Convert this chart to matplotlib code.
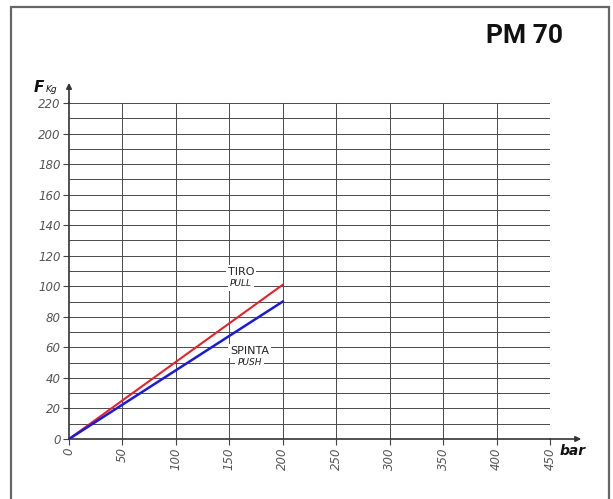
import matplotlib
matplotlib.use("Agg")
import matplotlib.pyplot as plt
from matplotlib.patches import Rectangle

# data
pressure_bar = [0, 200]
pull_kg = [0, 101]
push_kg = [0, 90]
x_ticks = [0, 50, 100, 150, 200, 250, 300, 350, 400, 450]
y_ticks = [0, 20, 40, 60, 80, 100, 120, 140, 160, 180, 200, 220]
y_minor = [10, 30, 50, 70, 90, 110, 130, 150, 170, 190, 210]

W, H = 613, 499
fig = plt.figure(figsize=(W / 100, H / 100), dpi=100)
fig.patch.set_facecolor('white')

# outer frame
fig.patches.append(Rectangle((11 / W, -0.01), (609 - 11) / W, 1 - 7 / H + 0.01,
                             transform=fig.transFigure, fill=False,
                             edgecolor='#666666', linewidth=1.6))

x0, x1 = 69, 550
y0, y1 = 439, 103
ax = fig.add_axes([x0 / W, 1 - y0 / H, (x1 - x0) / W, (y0 - y1) / H])
ax.set_xlim(0, 450)
ax.set_ylim(0, 220)

grid_c = '#4a4a4a'
for v in x_ticks[1:]:
    ax.axvline(v, color=grid_c, lw=0.7, zorder=1)
for v in y_ticks[1:] + y_minor:
    ax.axhline(v, color=grid_c, lw=0.7, zorder=1)

for s in ['top', 'right']:
    ax.spines[s].set_visible(False)
for s in ['left', 'bottom']:
    ax.spines[s].set_color('#333333')
    ax.spines[s].set_linewidth(1.2)

ax.plot(pressure_bar, pull_kg, color='#e8202a', lw=1.5, zorder=3)
ax.plot(pressure_bar, push_kg, color='#1a1adc', lw=1.8, zorder=3)

ax.set_xticks(x_ticks)
ax.set_yticks(y_ticks)
ax.tick_params(axis='both', direction='out', length=4, width=0.8,
               color='#444444', labelcolor='#555555', labelsize=8.5, pad=2)
for lab in ax.get_xticklabels():
    lab.set_rotation(90)
    lab.set_style('italic')
for lab in ax.get_yticklabels():
    lab.set_style('italic')

# axis arrows
ax.annotate('', xy=(1.065, 0), xytext=(1.0, 0), xycoords='axes fraction',
            arrowprops=dict(arrowstyle='-|>', color='#333333', lw=1.2,
                            mutation_scale=8, shrinkA=0, shrinkB=0),
            annotation_clip=False)
ax.annotate('', xy=(0, 1.06), xytext=(0, 1.0), xycoords='axes fraction',
            arrowprops=dict(arrowstyle='-|>', color='#333333', lw=1.2,
                            mutation_scale=8, shrinkA=0, shrinkB=0),
            annotation_clip=False)

# series labels, with white boxes knocking out the grid
box = dict(facecolor='white', edgecolor='none', pad=1.5)
ax.text(161, 109.5, 'TIRO', ha='center', va='center', fontsize=8,
        color='#222222', bbox=box, zorder=2)
ax.text(161, 101.5, 'PULL', ha='center', va='center', fontsize=6.5,
        style='italic', color='#222222', bbox=box, zorder=2)
ax.text(169, 57.6, 'SPINTA', ha='center', va='center', fontsize=8,
        color='#222222', bbox=box, zorder=2)
ax.text(169, 49.8, 'PUSH', ha='center', va='center', fontsize=6.5,
        style='italic', color='#222222', bbox=box, zorder=2)

fig.text(560 / W, 1 - 451 / H, 'bar', fontsize=10, fontweight='bold',
         style='italic', ha='left', va='center', color='#111111')
fig.text(34 / W, 1 - 88 / H, 'F', fontsize=11, fontweight='bold',
         style='italic', ha='left', va='center', color='#111111')
fig.text(46 / W, 1 - 89 / H, 'Kg', fontsize=6.5, style='italic',
         ha='left', va='center', color='#111111')

fig.text(563 / W, 1 - 36 / H, 'PM 70', fontsize=19, fontweight='bold',
         family=['Roboto', 'DejaVu Sans'],
         ha='right', va='center', color='#111111')

fig.savefig('out.png', dpi=100, facecolor='white')
